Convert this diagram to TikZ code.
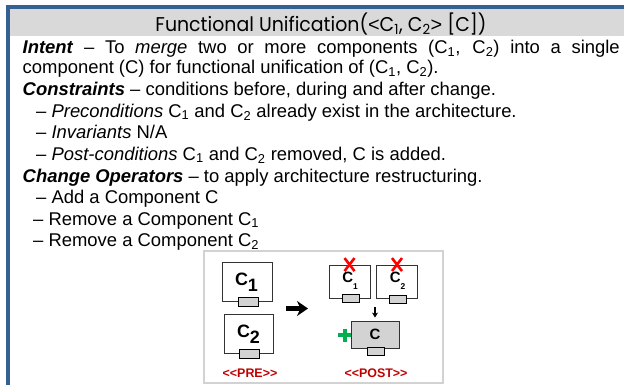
\documentclass[tikz,border=0pt]{standalone}
\usepackage{fontspec}
\setmainfont{Liberation Sans}
\newfontfamily\titlefont[FakeStretch=0.95]{Poppins}
\newfontfamily\anglefont{Liberation Sans}
\usetikzlibrary{arrows.meta,calc}
\definecolor{frameblue}{RGB}{52,96,148}
\definecolor{hdrgray}{RGB}{217,217,217}
\definecolor{boxgray}{RGB}{211,211,211}
\definecolor{figgray}{RGB}{210,210,210}
\definecolor{prered}{RGB}{192,0,0}
\definecolor{xred}{RGB}{255,0,0}
\definecolor{plusgreen}{RGB}{0,176,80}
\newcommand{\csub}[1]{\textsubscript{#1}}
\tikzset{
  bodyline/.style={anchor=base west, inner sep=0pt, font=\fontsize{18.5}{20}\selectfont},
  comp/.style={draw=black!80, fill=white, line width=0.9bp, inner sep=0pt},
  port/.style={draw=black, fill=boxgray, line width=0.9bp, inner sep=0pt},
  biglbl/.style={font=\bfseries\fontsize{18}{18}\selectfont, inner sep=0pt},
  smalllbl/.style={font=\bfseries\fontsize{15}{15}\selectfont, inner sep=0pt},
  tag/.style={text=prered, font=\bfseries\fontsize{12.5}{13}\selectfont, inner sep=0pt},
  cross/.style={draw=xred, line width=2.6bp},
}
\begin{document}
\begin{tikzpicture}[x=1bp,y=-1bp]
\useasboundingbox (0,0) rectangle (624,385);
\fill[white] (0,0) rectangle (624,385);
% header and frame
\fill[hdrgray] (8,7) rectangle (624,36);
\fill[frameblue] (6,5) rectangle (624,9);
\fill[frameblue] (6,5) rectangle (10,385);
\node[inner sep=0pt, anchor=base, font=\titlefont\fontsize{20}{22}\selectfont] (title) at (321,31)
  {Functional Unification({\anglefont<}C\csub{1}, C\csub{2}{\anglefont>} [C])};
% body text
\node[bodyline] (l1) at (22.5,53.3) {\makebox[597bp][s]{\textbf{\textit{Intent}} – To \textit{merge} two or more components (C\csub{1}, C\csub{2}) into a single}};
\node[bodyline] (l2) at (22.5,73.5) {component (C) for functional unification of (C\csub{1}, C\csub{2}).};
\node[bodyline] (l3) at (22.5,95) {\textbf{\textit{Constraints}} – conditions before, during and after change.};
\node[bodyline] (l4) at (36,117) {– \textit{Preconditions} C\csub{1} and C\csub{2} already exist in the architecture.};
\node[bodyline] (l5) at (36,138.5) {– \textit{Invariants} N/A};
\node[bodyline] (l6) at (36,160) {– \textit{Post-conditions} C\csub{1} and C\csub{2} removed, C is added.};
\node[bodyline] (l7) at (22.5,182) {\textbf{\textit{Change Operators}} – to apply architecture restructuring.};
\node[bodyline] (l8) at (36,203.5) {– Add a Component C};
\node[bodyline] (l9) at (33,225) {– Remove a Component C\csub{1}};
\node[bodyline] (l10) at (33,246) {– Remove a Component C\csub{2}};
% figure frame
\draw[figgray, line width=1.8bp] (204,251) rectangle (443,383);
% PRE
\node[comp, minimum width=50bp, minimum height=39bp] (pc1) at (247,281.5) {};
\node[biglbl] (pc1l) at (246.5,282) {C\raisebox{-6bp}{1}};
\node[port, minimum width=20bp, minimum height=9bp] (pc1p) at (248,301.5) {};
\node[comp, minimum width=49bp, minimum height=39bp] (pc2) at (248.5,333.5) {};
\node[biglbl] (pc2l) at (248.5,334) {C\raisebox{-6bp}{2}};
\node[port, minimum width=20bp, minimum height=9bp] (pc2p) at (249,354) {};
% big arrow
\coordinate (ba1) at (286,308.5);
\coordinate (ba2) at (308,308.5);
\draw[line width=4.5bp, -{Stealth[length=11bp,width=15bp,inset=3.5bp]}] (ba1) -- (ba2);
% POST
\node[comp, minimum width=41bp, minimum height=33bp] (qc1) at (349.5,281.5) {};
\node[smalllbl] (qc1l) at (350,281) {C\raisebox{-7bp}{\fontsize{8.5}{8.5}\selectfont 1}};
\node[port, minimum width=17bp, minimum height=8bp] (qc1p) at (350.5,298) {};
\node[comp, minimum width=41bp, minimum height=33bp] (qc2) at (397,281.5) {};
\node[smalllbl] (qc2l) at (397.5,281) {C\raisebox{-7bp}{\fontsize{8.5}{8.5}\selectfont 2}};
\node[port, minimum width=17bp, minimum height=8bp] (qc2p) at (397.5,299) {};
% red crosses
\draw[cross] ($(qc1.north)+(-5,-6.5)$) -- ($(qc1.north)+(5,6.5)$);
\draw[cross] ($(qc1.north)+(5,-6.5)$) -- ($(qc1.north)+(-5,6.5)$);
\draw[cross] ($(qc2.north)+(-5,-6.5)$) -- ($(qc2.north)+(5,6.5)$);
\draw[cross] ($(qc2.north)+(5,-6.5)$) -- ($(qc2.north)+(-5,6.5)$);
% merged C
\node[comp, fill=boxgray, minimum width=48bp, minimum height=27bp] (qc) at (375,334.5) {};
\node[smalllbl] (qcl) at (375,334) {C};
\node[port, minimum width=17bp, minimum height=8bp] (qcp) at (375.5,351) {};
\coordinate (da1) at (375,307);
\coordinate (da2) at ($(da1 |- qc.north)+(0,-3)$);
\draw[line width=1.4bp, -{Stealth[length=5bp,width=6bp]}] (da1) -- (da2);
% green plus
\coordinate (gp) at (344.5,335);
\draw[plusgreen, line width=4bp] ($(gp)+(-6.5,0)$) -- ($(gp)+(6.5,0)$);
\draw[plusgreen, line width=4bp] ($(gp)+(0,-6.5)$) -- ($(gp)+(0,6.5)$);
% tags
\node[tag] (pre) at (250,373) {<{}<PRE>{}>};
\node[tag] (post) at (376,373) {<{}<POST>{}>};
\end{tikzpicture}
\end{document}
